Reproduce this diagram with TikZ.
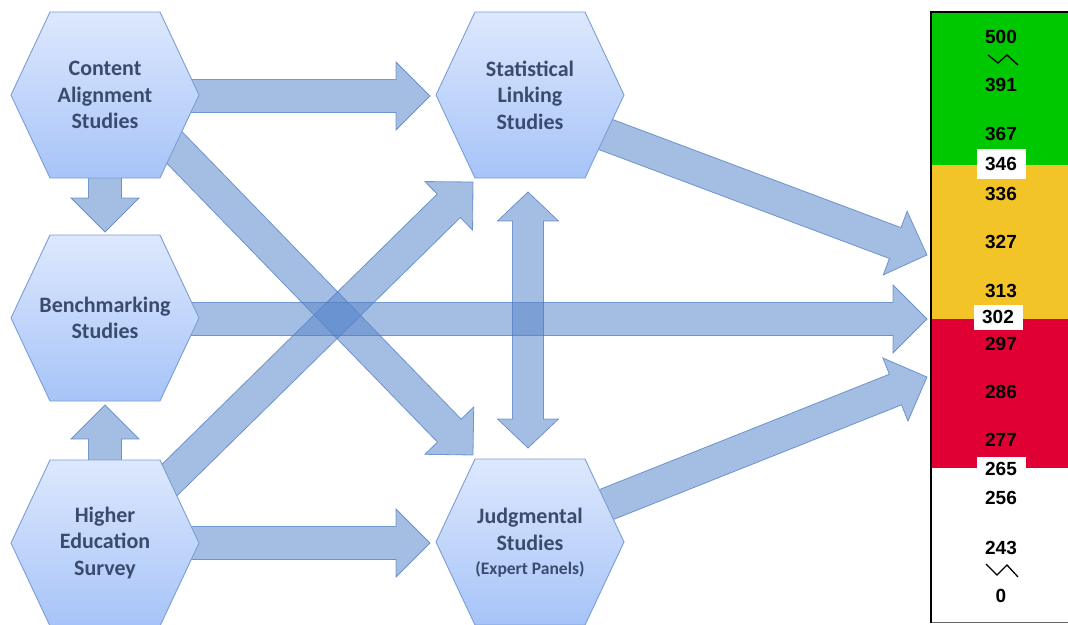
\documentclass[tikz,border=0pt]{standalone}
\usepackage{fontspec}
\setmainfont{Carlito}
\newfontfamily\numfont{Liberation Sans}
\usetikzlibrary{calc,backgrounds}
\definecolor{hextop}{HTML}{DDE8FD}
\definecolor{hexbot}{HTML}{A6C4F8}
\definecolor{hexline}{HTML}{7C9DD3}
\definecolor{hextext}{HTML}{3A4B6E}
\definecolor{arrfill}{HTML}{5A88CC}
\definecolor{arrline}{HTML}{4F7DC0}
\definecolor{scgreen}{HTML}{00C800}
\definecolor{scyellow}{HTML}{F2C428}
\definecolor{scred}{HTML}{E00034}
\tikzset{
  blockarr/.style={fill=arrfill, fill opacity=0.55, draw=arrline, draw opacity=0.75, line width=0.8pt, line join=miter},
  hexshape/.style={top color=hextop, bottom color=hexbot, draw=hexline, line width=0.9pt},
  hexlabel/.style={text=hextext, align=center, font=\fontsize{22}{26.5}\selectfont\bfseries, inner sep=0pt},
  scalenum/.style={font=\numfont\fontsize{19}{19}\selectfont\bfseries, inner sep=0pt},
  numbox/.style={scalenum, fill=white, minimum width=49pt, minimum height=30pt},
  zigzag/.style={line width=1.3pt, line join=miter}
}
\newcommand\blockarrow[2]{%
  \coordinate (bah) at ($(#2)!34pt!(#1)$);
  \path[blockarr] ($(#1)!16.5pt!90:(#2)$) -- ($(bah)!16.5pt!90:(#2)$) -- ($(bah)!34pt!90:(#2)$) -- (#2)
    -- ($(bah)!34pt!-90:(#2)$) -- ($(bah)!16.5pt!-90:(#2)$) -- ($(#1)!16.5pt!-90:(#2)$) -- cycle;
}
\newcommand\twowayarrow[2]{%
  \coordinate (bha) at ($(#1)!29pt!(#2)$);
  \coordinate (bhb) at ($(#2)!29pt!(#1)$);
  \path[blockarr] (#1) -- ($(bha)!30.5pt!90:(#2)$) -- ($(bha)!15.5pt!90:(#2)$) -- ($(bhb)!15.5pt!90:(#2)$)
    -- ($(bhb)!30.5pt!90:(#2)$) -- (#2) -- ($(bhb)!30.5pt!-90:(#2)$) -- ($(bhb)!15.5pt!-90:(#2)$)
    -- ($(bha)!15.5pt!-90:(#2)$) -- ($(bha)!30.5pt!-90:(#2)$) -- cycle;
}
\newcommand\hexnode[4]{%
  \path[hexshape, shift={(#2,#3)}] (-94,0) -- (-55,-83) -- (55,-83) -- (94,0) -- (55,83) -- (-55,83) -- cycle;
  \node[hexlabel] (#1) at (#2,#3) {#4};
}
\begin{document}
\begin{tikzpicture}[x=1pt, y=-1pt]
\useasboundingbox (0,0) rectangle (1068,624);
% hexagons
\hexnode{ca}{105}{95}{Content\\Alignment\\Studies}
\hexnode{sl}{530}{95}{Statistical\\Linking\\Studies}
\hexnode{bm}{105}{318}{Benchmarking\\Studies}
\hexnode{he}{105}{543}{Higher\\Education\\Survey}
\path[hexshape, shift={(530,542)}] (-94,0) -- (-55,-83) -- (55,-83) -- (94,0) -- (55,83) -- (-55,83) -- cycle;
\node[hexlabel] (js) at (530,543) {Judgmental\\Studies\\[-2pt]{\fontsize{17.5}{20}\selectfont (Expert Panels)}};
% scale
\begin{pgfonlayer}{background}
\fill[white] (931,12) rectangle (1080,622);
\fill[scgreen] (931,12) rectangle (1080,165);
\fill[scyellow] (931,165) rectangle (1080,319);
\fill[scred] (931,319) rectangle (1080,468);
\draw[black!60, line width=0.8pt] (931,622) -- (1080,622);
\draw[black, line width=2pt] (1080,12) -- (931,12) -- (931,623);
\node[scalenum] (n500) at (1001,37) {500};
\coordinate (z1) at (1001,60);
\draw[zigzag] ($(z1)+(-13,-5)$) -- ($(z1)+(-3,3)$) -- ($(z1)+(6,-5)$) -- ($(z1)+(17,5)$);
\node[scalenum] (n391) at (1001,85) {391};
\node[scalenum] (n367) at (1001,134) {367};
\node[numbox] (n346) at (1001,164) {346};
\node[scalenum] (n336) at (1001,194) {336};
\node[scalenum] (n327) at (1001,242) {327};
\node[scalenum] (n313) at (1001,291) {313};
\node[numbox, minimum height=25pt] (n302) at (998,317) {302};
\node[scalenum] (n297) at (1001,344) {297};
\node[scalenum] (n286) at (1001,392) {286};
\node[scalenum] (n277) at (1001,440) {277};
\node[numbox, minimum height=24pt] (n265) at (1001,469) {265};
\node[scalenum] (n256) at (1001,498) {256};
\node[scalenum] (n243) at (1001,548) {243};
\coordinate (z2) at (1001,571);
\draw[zigzag] ($(z2)+(-15,-7)$) -- ($(z2)+(-4,4)$) -- ($(z2)+(6,-6)$) -- ($(z2)+(17,6)$);
\node[scalenum] (n0) at (1001,596) {0};
% arrow end points
\coordinate (sc1) at (927,255);
\coordinate (sc2) at (927,319);
\coordinate (sc3) at (927,377);
\coordinate (a1s) at ($(ca)+(85,1)$);   \coordinate (a1t) at ($(sl)+(-100,1)$);
\coordinate (a2s) at ($(ca)+(0,75)$);   \coordinate (a2t) at ($(bm)+(0,-86)$);
\coordinate (a3s) at ($(he)+(0,-72)$);  \coordinate (a3t) at ($(bm)+(0,87)$);
\coordinate (a4s) at ($(ca)+(35,17)$);  \coordinate (a4t) at ($(js)+(-57,-88)$);
\coordinate (a5s) at ($(he)+(35,-34)$); \coordinate (a5t) at ($(sl)+(-57,87)$);
\coordinate (a6s) at ($(bm)+(85,1)$);
\coordinate (a7s) at ($(sl)+(37,25)$);
\coordinate (a8s) at ($(js)+(35,-22)$);
\coordinate (a9s) at ($(he)+(85,0)$);   \coordinate (a9t) at ($(js)+(-100,0)$);
\coordinate (d1) at ($(sl)+(-2,97)$);   \coordinate (d2) at ($(js)+(-2,-95)$);
\blockarrow{a1s}{a1t}
\blockarrow{a2s}{a2t}
\blockarrow{a3s}{a3t}
\blockarrow{a4s}{a4t}
\blockarrow{a5s}{a5t}
\blockarrow{a6s}{sc2}
\blockarrow{a7s}{sc1}
\blockarrow{a8s}{sc3}
\blockarrow{a9s}{a9t}
\twowayarrow{d1}{d2}
\end{pgfonlayer}
\end{tikzpicture}
\end{document}
